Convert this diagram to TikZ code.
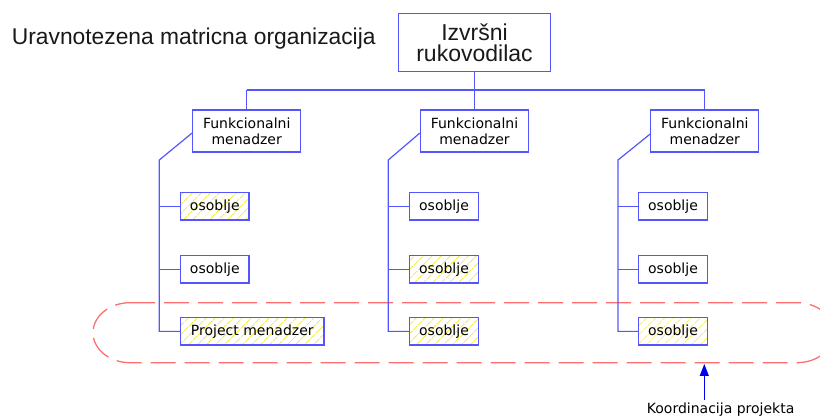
\documentclass[tikz,border=0pt]{standalone}
\usepackage{fontspec}
\setmainfont{Liberation Sans}
\newfontfamily\boxfont{DejaVu Sans}
\usetikzlibrary{patterns.meta,arrows.meta}
\definecolor{bl}{RGB}{85,85,255}
\definecolor{rd}{RGB}{255,110,110}
\definecolor{hy}{RGB}{245,235,70}
\definecolor{arrblue}{RGB}{0,0,240}
\tikzset{
 box/.style={draw=bl, line width=1.2pt, inner sep=0pt, align=center, font=\boxfont\fontsize{14}{16}\selectfont, text=black},
 fbox/.style={box, minimum width=108pt, minimum height=42pt},
 obox/.style={box, minimum width=68.3pt, minimum height=27.3pt},
 hatch/.style={pattern={Lines[angle=45,distance=6.5pt,line width=0.9pt]}, pattern color=hy},
 conn/.style={draw=bl, line width=1.2pt},
 coord/.style={draw=rd, line width=1.3pt, dash pattern=on 25pt off 9pt},
}
\begin{document}
\begin{tikzpicture}[x=1pt,y=-1pt]
\useasboundingbox (0,0) rectangle (820,419);
% title
\node[anchor=base west, inner sep=0pt, font=\fontsize{22.8}{27}\selectfont, text=black!90] (title) at (11.7,45) {Uravnotezena matricna organizacija};
% top box
\node[box, font=\fontsize{23}{21}\selectfont, text=black!90, minimum width=152.7pt, minimum height=58.4pt] (top) at (474.5,42.5) {Izvršni\\rukovodilac};
% functional managers
\node[fbox] (f1) at (246.7,131) {Funkcionalni\\menadzer};
\node[fbox] (f2) at (474.5,131) {Funkcionalni\\menadzer};
\node[fbox] (f3) at (704.8,131) {Funkcionalni\\menadzer};
% hub
\coordinate (hubL) at (246.7,90);
\coordinate (hubR) at (704.8,90);
\draw[conn] (top.south) -- (top.south |- hubL);
\draw[conn] (hubL) -- (hubR);
\draw[conn] (f1.north) -- (hubL);
\draw[conn] (f2.north) -- (f2.north |- hubL);
\draw[conn] (f3.north) -- (hubR);
% coordination ring (behind boxes)
\draw[coord] (130,302.7) -- (797,302.7)
  arc[start angle=-90, end angle=90, x radius=37, y radius=30]
  -- (130,362.7)
  arc[start angle=90, end angle=270, x radius=37, y radius=30] -- cycle;
\coordinate (ringb) at (704.3,364);
% column 1
\node[obox, hatch] (o11) at (214.8,206.4) {osoblje};
\node[obox] (o12) at (214.8,269.4) {osoblje};
\node[box, hatch, minimum width=143.3pt, minimum height=27.3pt] (pm) at (252.3,331.4) {Project menadzer};
% column 2
\node[obox] (o21) at (444,206.4) {osoblje};
\node[obox, hatch] (o22) at (444,269.4) {osoblje};
\node[obox, hatch] (o23) at (444,331.4) {osoblje};
% column 3
\node[obox] (o31) at (673,206.4) {osoblje};
\node[obox] (o32) at (673,269.4) {osoblje};
\node[obox, hatch] (o33) at (673,331.4) {osoblje};
% column spines
\coordinate (c1) at (159.3,160);
\coordinate (c2) at (388.3,160);
\coordinate (c3) at (618,160);
\draw[conn] ([yshift=-2pt]f1.west) -- (c1) -- (c1 |- pm.west) -- (pm.west);
\draw[conn] (c1 |- o11.west) -- (o11.west);
\draw[conn] (c1 |- o12.west) -- (o12.west);
\draw[conn] ([yshift=-2pt]f2.west) -- (c2) -- (c2 |- o23.west) -- (o23.west);
\draw[conn] (c2 |- o21.west) -- (o21.west);
\draw[conn] (c2 |- o22.west) -- (o22.west);
\draw[conn] ([yshift=-3pt]f3.west) -- (c3) -- (c3 |- o33.west) -- (o33.west);
\draw[conn] (c3 |- o31.west) -- (o31.west);
\draw[conn] (c3 |- o32.west) -- (o32.west);
% coordination label and arrow
\node[anchor=base west, inner sep=0pt, font=\boxfont\fontsize{14}{16}\selectfont, text=black] (koord) at (646.7,413.3) {Koordinacija projekta};
\coordinate (arrs) at (704.3,400);
\draw[arrblue, line width=1.2pt, -{Triangle[length=12pt,width=9pt]}] (arrs) -- (ringb);
\end{tikzpicture}
\end{document}
